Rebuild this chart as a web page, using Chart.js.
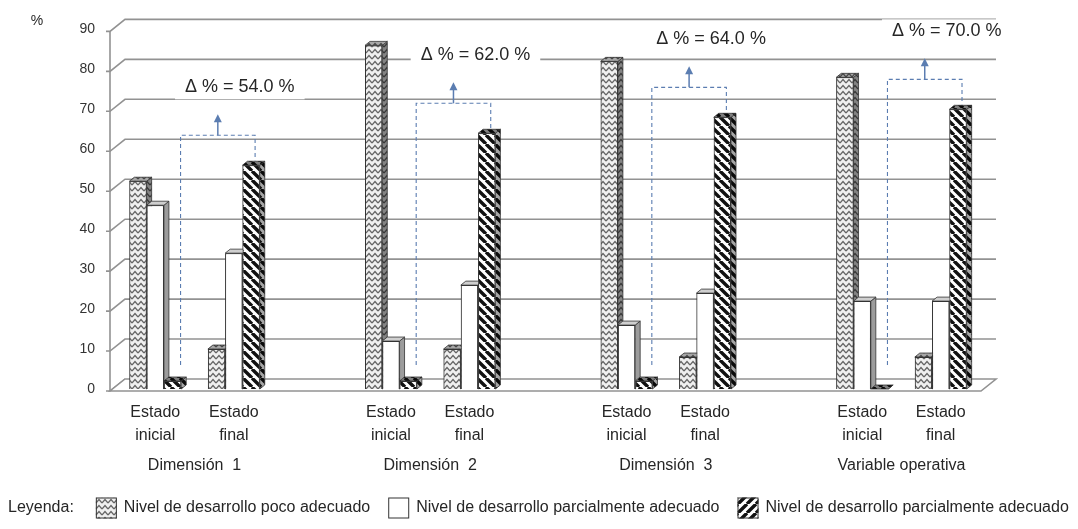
<!DOCTYPE html>
<html>
<head>
<meta charset="utf-8">
<script src="https://cdn.jsdelivr.net/npm/chart.js@4.4.1/dist/chart.umd.min.js"></script>
<style>html,body{margin:0;padding:0;background:#fff;}canvas{display:block;}</style>
</head>
<body>
<canvas id="chart" width="1078" height="529"></canvas>
<script>
// ── DATA ──────────────────────────────────────────────────────────────────────
const categories = [['Estado', 'inicial'], ['Estado', 'final'], '',
                    ['Estado', 'inicial'], ['Estado', 'final'], '',
                    ['Estado', 'inicial'], ['Estado', 'final'], '',
                    ['Estado', 'inicial'], ['Estado', 'final']];
const groups = ['Dimensión  1', 'Dimensión  2', 'Dimensión  3', 'Variable operativa'];
const pocoAdecuado     = [52, 10, null, 86, 10, null, 82, 8, null, 78, 8];
const parcialAdecuado  = [46, 34, null, 12, 26, null, 16, 24, null, 22, 22];
const parcialAdecuado2 = [2, 56, null, 2, 64, null, 2, 68, null, 0, 70];
const deltas = ['54.0', '62.0', '64.0', '70.0'];
const legendLabels = ['Nivel de desarrollo poco adecuado',
                      'Nivel de desarrollo parcialmente adecuado',
                      'Nivel de desarrollo parcialmente adecuado'];
const yMax = 90, yStep = 10;

const FONT = "'Liberation Sans', Arial, sans-serif";
Chart.defaults.font.family = FONT;

// ── PATTERNS ──────────────────────────────────────────────────────────────────
const canvas = document.getElementById('chart');
const ctx0 = canvas.getContext('2d');

function tile(w, h, draw) {
  const c = document.createElement('canvas');
  c.width = w; c.height = h;
  draw(c.getContext('2d'));
  return ctx0.createPattern(c, 'repeat');
}
const wave = tile(6, 6, g => {
  g.fillStyle = '#f0f0f0'; g.fillRect(0, 0, 6, 6);
  g.strokeStyle = '#666'; g.lineWidth = 1.2;
  g.beginPath(); g.moveTo(0, 5); g.lineTo(3, 1.5); g.lineTo(6, 5); g.stroke();
});
function hatch(dir) {
  return tile(9, 9, g => {
    g.fillStyle = '#fff'; g.fillRect(0, 0, 9, 9);
    g.strokeStyle = '#111'; g.lineWidth = 3.4;
    g.beginPath();
    [-9, 0, 9].forEach(k => {
      if (dir > 0) { g.moveTo(k, 0); g.lineTo(k + 9, 9); }
      else { g.moveTo(k, 9); g.lineTo(k + 9, 0); }
    });
    g.stroke();
  });
}
const hatchBar = hatch(1), hatchLegend = hatch(-1);

const fills = [wave, '#ffffff', hatchBar];
const sideShade = [0.45, 0, 0.35];
const sideBase = [null, '#9c9c9c', null];
const topShade = [0.3, 0, 0.5];
const topBase = [null, '#cfcfcf', null];

// ── 3D HELPERS ────────────────────────────────────────────────────────────────
const WALL = { x: 15, y: -12 };
const BAR = { x: 5, y: -4 };

function shadeFace(ctx, i, base, shade) {
  ctx.fillStyle = base[i] || fills[i];
  ctx.fill();
  if (shade[i]) { ctx.fillStyle = 'rgba(0,0,0,' + shade[i] + ')'; ctx.fill(); }
  ctx.strokeStyle = '#333'; ctx.lineWidth = 0.8; ctx.stroke();
}

const wall3d = {
  id: 'wall3d',
  beforeDatasetsDraw(chart) {
    const { ctx, chartArea: a, scales: { y } } = chart;
    const fx = a.left - 6;
    ctx.save();
    ctx.strokeStyle = '#929292'; ctx.lineWidth = 1.6;
    y.ticks.forEach(t => {
      const py = y.getPixelForValue(t.value) + 2;
      ctx.beginPath();
      ctx.moveTo(fx - 4, py); ctx.lineTo(fx, py);
      ctx.lineTo(fx + WALL.x, py + WALL.y);
      if (t.value !== 0) ctx.lineTo(a.right + 1 + WALL.x, py + WALL.y);
      ctx.stroke();
    });
    ctx.beginPath();
    ctx.moveTo(fx, y.getPixelForValue(yMax) + 2);
    ctx.lineTo(fx, y.getPixelForValue(0) + 2);
    ctx.stroke();
    const p0 = y.getPixelForValue(0) + 2;
    ctx.beginPath();
    ctx.moveTo(fx, p0); ctx.lineTo(a.right + 1, p0);
    ctx.lineTo(a.right + 1 + WALL.x, p0 + WALL.y);
    ctx.lineTo(fx + WALL.x, p0 + WALL.y);
    ctx.closePath();
    ctx.fillStyle = '#fff'; ctx.fill(); ctx.stroke();
    ctx.restore();
  }
};

const bars3d = {
  id: 'bars3d',
  afterDatasetsDraw(chart) {
    const ctx = chart.ctx;
    ctx.save();
    chart.data.datasets.forEach((ds, i) => {
      chart.getDatasetMeta(i).data.forEach((bar, j) => {
        if (ds.data[j] == null) return;
        const { x, y, base, width } = bar.getProps(['x', 'y', 'base', 'width'], true);
        const l = x - width / 2, r = x + width / 2;
        ctx.beginPath();
        ctx.moveTo(r, y); ctx.lineTo(r + BAR.x, y + BAR.y);
        ctx.lineTo(r + BAR.x, base + BAR.y); ctx.lineTo(r, base); ctx.closePath();
        shadeFace(ctx, i, sideBase, sideShade);
        ctx.beginPath();
        ctx.moveTo(l, y); ctx.lineTo(l + BAR.x, y + BAR.y);
        ctx.lineTo(r + BAR.x, y + BAR.y); ctx.lineTo(r, y); ctx.closePath();
        shadeFace(ctx, i, topBase, topShade);
        bar.draw(ctx);
      });
    });
    ctx.restore();
  }
};

// ── ANNOTATIONS, GROUP LABELS, LEGEND ─────────────────────────────────────────
const extras = {
  id: 'extras',
  afterDraw(chart) {
    const { ctx, scales: { x, y } } = chart;
    const m = chart.getDatasetMeta(2);
    ctx.save();
    // Δ brackets
    deltas.forEach((d, k) => {
      const bi = m.data[3 * k], bf = m.data[3 * k + 1];
      const xl = bi.x + 8, xr = bf.x + 4, xm = (xl + xr) / 2;
      const top = y.getPixelForValue(parcialAdecuado2[3 * k + 1] + 7.5);
      const bottom = y.getPixelForValue(6);
      ctx.strokeStyle = '#5b7db1'; ctx.fillStyle = '#5b7db1'; ctx.lineWidth = 1.1;
      ctx.setLineDash([4, 3]);
      ctx.beginPath();
      ctx.moveTo(xl, bottom); ctx.lineTo(xl, top); ctx.lineTo(xr, top); ctx.lineTo(xr, bf.y - 5);
      ctx.stroke();
      ctx.setLineDash([]);
      ctx.lineWidth = 1.5;
      ctx.beginPath(); ctx.moveTo(xm, top); ctx.lineTo(xm, top - 16); ctx.stroke();
      ctx.beginPath(); ctx.moveTo(xm, top - 21); ctx.lineTo(xm - 4, top - 13); ctx.lineTo(xm + 4, top - 13); ctx.closePath(); ctx.fill();
      const txt = 'Δ % = ' + d + ' %';
      ctx.font = '18px ' + FONT;
      const w = ctx.measureText(txt).width;
      const tx = xm + 22, ty = top - 48;
      ctx.fillStyle = '#fff';
      ctx.fillRect(tx - w / 2 - 10, ty - 12, w + 20, 24);
      ctx.fillStyle = '#262626'; ctx.textAlign = 'center'; ctx.textBaseline = 'middle';
      ctx.fillText(txt, tx, ty);
    });
    // group labels
    ctx.font = '16px ' + FONT; ctx.fillStyle = '#262626';
    ctx.textAlign = 'center'; ctx.textBaseline = 'middle';
    groups.forEach((g, k) => {
      const gx = (x.getPixelForValue(3 * k) + x.getPixelForValue(3 * k + 1)) / 2;
      ctx.fillText(g, gx, 466);
    });
    // y unit
    ctx.font = '14px ' + FONT;
    ctx.fillText('%', 37, 21);
    // legend
    ctx.font = '16px ' + FONT; ctx.textAlign = 'left';
    const ly = 508, sw = 21;
    let lx = 8;
    ctx.fillText('Leyenda:', lx, ly);
    lx += ctx.measureText('Leyenda:').width + 22;
    const swatches = [wave, '#ffffff', hatchLegend];
    legendLabels.forEach((lab, i) => {
      ctx.fillStyle = swatches[i];
      ctx.fillRect(lx, ly - sw / 2, sw, sw);
      ctx.strokeStyle = '#333'; ctx.lineWidth = 1;
      ctx.strokeRect(lx + 0.5, ly - sw / 2 + 0.5, sw - 1, sw - 1);
      lx += sw + 7;
      ctx.fillStyle = '#262626';
      ctx.fillText(lab, lx, ly);
      lx += ctx.measureText(lab).width + 18;
    });
    ctx.restore();
  }
};

// ── CHART ─────────────────────────────────────────────────────────────────────
const datasets = [pocoAdecuado, parcialAdecuado, parcialAdecuado2].map((data, i) => ({
  label: legendLabels[i],
  data,
  backgroundColor: fills[i],
  borderColor: '#333',
  borderWidth: 1
}));

new Chart(ctx0, {
  type: 'bar',
  data: { labels: categories, datasets },
  options: {
    responsive: false,
    animation: false,
    layout: { padding: { top: 17, right: 98, left: 0, bottom: 0 } },
    datasets: { bar: { categoryPercentage: 0.66, barPercentage: 1 } },
    plugins: { legend: { display: false }, tooltip: { enabled: false } },
    scales: {
      x: {
        grid: { display: false, drawTicks: false },
        border: { display: false },
        ticks: { font: { size: 16, lineHeight: 1.45 }, color: '#262626', padding: 12, maxRotation: 0, autoSkip: false },
        afterFit: s => { s.height = 140; }
      },
      y: {
        min: 0, max: yMax,
        grid: { display: false, drawTicks: false },
        border: { display: false },
        ticks: { stepSize: yStep, font: { size: 14 }, color: '#333', padding: 21 },
        afterFit: s => { s.width = 116; }
      }
    }
  },
  plugins: [wall3d, bars3d, extras]
});
</script>
</body>
</html>
